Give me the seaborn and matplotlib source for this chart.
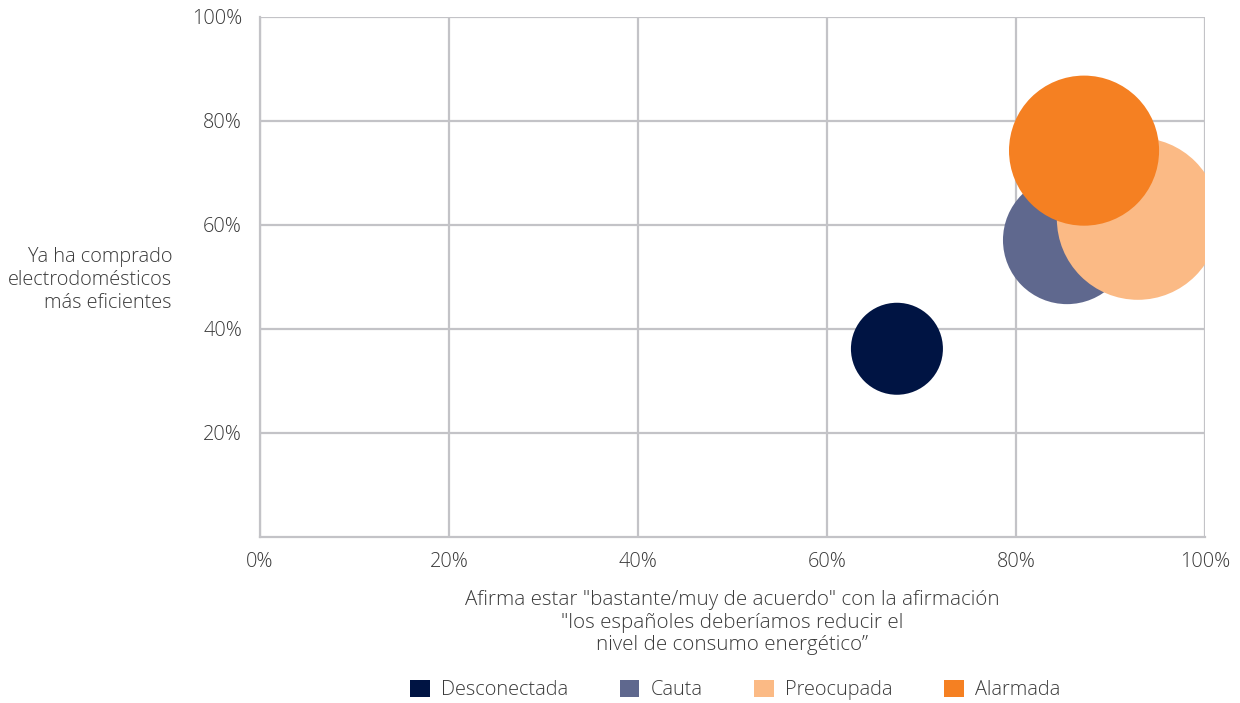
import matplotlib
matplotlib.use("Agg")
import matplotlib.pyplot as plt
import seaborn as sns
import pandas as pd
from matplotlib.patches import Patch

segments = ["Desconectada", "Cauta", "Preocupada", "Alarmada"]
reduce_consumo = [67.4, 85.4, 92.9, 87.2]      # x, %
compra_eficientes = [36.2, 57.1, 61.2, 74.3]   # y, %
peso_segmento = [11.5, 22.3, 35.7, 30.6]       # bubble size, %
colors = ["#001443", "#5f688e", "#fbba85", "#f58022"]

x_ticks = [0, 20, 40, 60, 80, 100]
y_ticks = [20, 40, 60, 80, 100]

df = pd.DataFrame({"segment": segments, "x": reduce_consumo,
                   "y": compra_eficientes, "size": peso_segmento})

sns.set_theme(style="white")
plt.rcParams["font.family"] = ["Open Sans", "DejaVu Sans"]
plt.rcParams["font.weight"] = "light"
plt.rcParams["axes.labelweight"] = "light"

FS = 14.3
TXT = "#3a3a3a"

fig = plt.figure(figsize=(12.4, 7.03), dpi=100)
ax = fig.add_axes([260 / 1240, 1 - 537 / 703, 945 / 1240, 520 / 703])

sns.scatterplot(data=df, x="x", y="y", hue="segment", palette=colors,
                s=df["size"] * 381.6, linewidth=0, alpha=1, legend=False,
                ax=ax, zorder=3)

grid_c = "#c3c3c7"
ax.set_xlim(0, 100)
ax.set_ylim(0, 100)
ax.set_xticks(x_ticks)
ax.set_yticks(y_ticks)
ax.set_xticklabels([f"{t}%" for t in x_ticks])
ax.set_yticklabels([f"{t}%" for t in y_ticks])
ax.grid(True, color=grid_c, linewidth=1.6, zorder=0)
ax.set_axisbelow(True)
for side in ["top", "right"]:
    ax.spines[side].set_visible(False)
for side in ["left", "bottom"]:
    ax.spines[side].set_color(grid_c)
    ax.spines[side].set_linewidth(1.6)
ax.tick_params(axis="both", length=0, labelsize=FS, colors=TXT)
ax.tick_params(axis="x", pad=11)
ax.tick_params(axis="y", pad=13)

ax.set_xlabel('Afirma estar "bastante/muy de acuerdo" con la afirmación\n'
              '"los españoles deberíamos reducir el\nnivel de consumo energético”',
              fontsize=14.8, color=TXT, labelpad=13, linespacing=1.15,
              fontweight="light")
ax.set_ylabel("")
fig.text(172 / 1240, 1 - 280 / 703,
         "Ya ha comprado\nelectrodomésticos\nmás eficientes",
         ha="right", va="center", fontsize=FS, color=TXT, linespacing=1.22,
         fontweight="light")

handles = [Patch(facecolor=c, edgecolor="none") for c in colors]
fig.legend(handles, segments, loc="center", bbox_to_anchor=(735 / 1240, 1 - 690 / 703),
           ncol=4, frameon=False, fontsize=FS, handlelength=1.0, handleheight=1.0,
           columnspacing=2.6, handletextpad=0.55, labelcolor=TXT)

fig.savefig("out.png", dpi=100)
